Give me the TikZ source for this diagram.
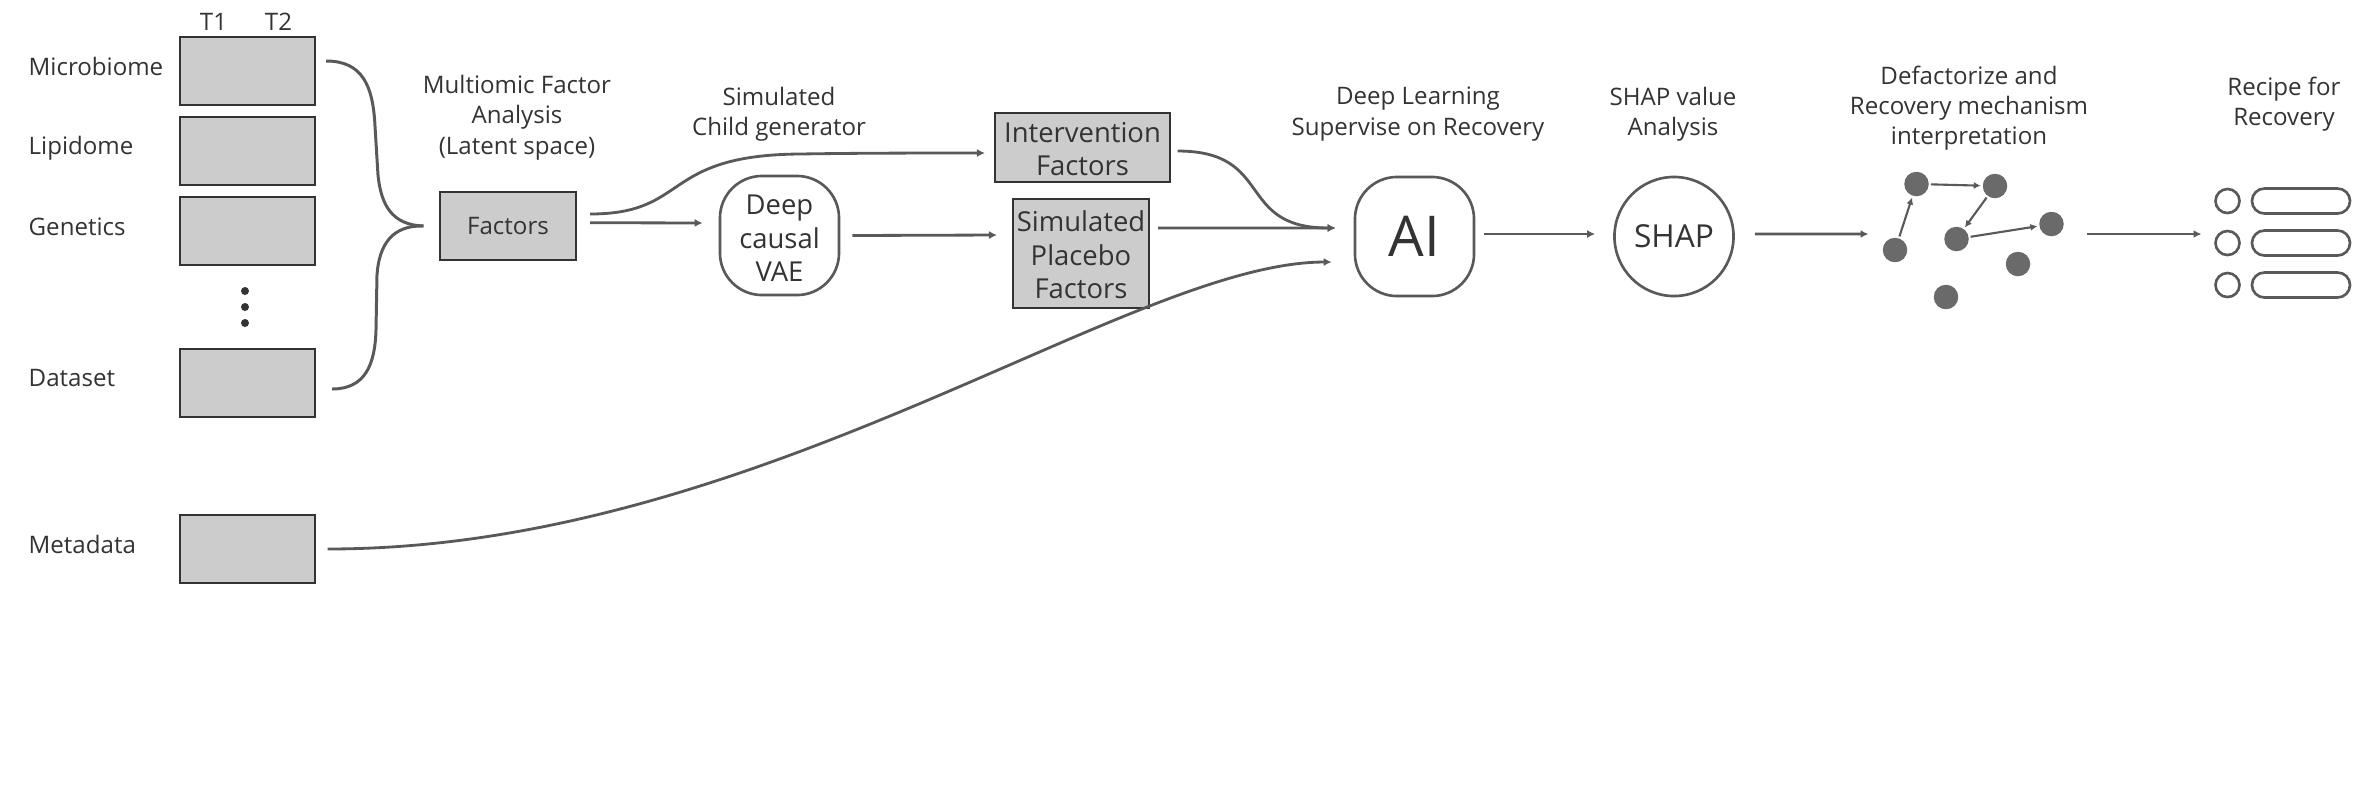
\documentclass[tikz,border=0pt]{standalone}
\usepackage{fontspec}
\setmainfont{Open Sans}
\usetikzlibrary{arrows.meta}
\definecolor{linegrey}{HTML}{595959}
\definecolor{boxgrey}{HTML}{CCCCCC}
\definecolor{textgrey}{HTML}{333333}
\tikzset{
	databox/.style={draw=textgrey, line width=0.55pt, fill=boxgrey, inner sep=0pt, minimum width=1.35cm, minimum height=0.68cm},
	factorbox/.style={draw=textgrey, line width=0.55pt, fill=boxgrey, inner sep=0pt, align=center, font=\fontsize{7.8}{9.5}\selectfont},
	softbox/.style={draw=linegrey, line width=0.75pt, inner sep=0pt, rounded corners=4.2mm, align=center},
	caption/.style={align=center, font=\fontsize{6.85}{8.6}\selectfont},
	sidelabel/.style={anchor=west, inner sep=0pt, font=\fontsize{6.85}{8.6}\selectfont},
	vertex/.style={circle, fill=linegrey!90, inner sep=0pt, minimum size=0.245cm, outer sep=0.2mm},
	slot/.style={draw=linegrey, line width=0.75pt, circle, inner sep=0pt, minimum size=0.24cm},
	pill/.style={draw=linegrey, line width=0.75pt, inner sep=0pt, rounded corners=1.25mm, minimum width=0.98cm, minimum height=0.25cm},
	flow/.style={draw=linegrey, line width=0.8pt, -{Latex[length=0.8mm,width=0.8mm]}},
	thinflow/.style={draw=linegrey, line width=0.6pt, -{Latex[length=0.7mm,width=0.7mm]}},
	bracket/.style={draw=linegrey, line width=0.85pt}
}
\begin{document}
\begin{tikzpicture}[x=0.01cm, y=-0.01cm, text=textgrey]
	\useasboundingbox (0,0) rectangle (2362,787);
	% data blocks
	\node[databox] (micro) at (247.5,71) {};
	\node[databox] (lipid) at (247.5,151) {};
	\node[databox] (genet) at (247.5,231) {};
	\node[databox] (dataset) at (247.5,383) {};
	\node[databox] (meta) at (247.5,549) {};
	\node[sidelabel] (microlab) at (28,66) {Microbiome};
	\node[sidelabel] (lipidlab) at (28,148.5) {Lipidome};
	\node[sidelabel] (genetlab) at (28,227) {Genetics};
	\node[sidelabel] (datasetlab) at (28,378) {Dataset};
	\node[sidelabel] (metalab) at (28,544.5) {Metadata};
	\node[caption] (tone) at (213.5,21.5) {T1};
	\node[caption] (ttwo) at (278.5,21.5) {T2};
	\foreach \i/\y in {1/291,2/307,3/323}
		\node[circle, fill=textgrey, inner sep=0pt, minimum size=0.08cm] (dot\i) at (245,\y) {};
	% main row
	\node[databox, font=\fontsize{6.85}{8.6}\selectfont] (factors) at (508,226) {Factors};
	\node[softbox, font=\fontsize{7.8}{9.5}\selectfont, minimum width=1.19cm, minimum height=1.19cm] (vae) at (779.5,235.5) {\rule{0pt}{7.3pt}Deep\\causal\\VAE};
	\node[factorbox, minimum width=1.75cm, minimum height=0.69cm] (interv) at (1082.5,147.5) {\rule{0pt}{6.5pt}Intervention\\Factors};
	\node[factorbox, minimum width=1.36cm, minimum height=1.09cm] (placebo) at (1081,253.5) {\rule{0pt}{6.8pt}Simulated\\Placebo\\Factors};
	\node[softbox, font=\fontsize{16}{18}\selectfont, minimum width=1.19cm, minimum height=1.19cm] (ai) at (1414.5,236.5) {AI};
	\node[draw=linegrey, line width=0.75pt, circle, inner sep=0pt, minimum size=1.19cm, font=\fontsize{9}{11}\selectfont] (shap) at (1674,236.5) {SHAP};
	% captions
	\node[caption] (mofa) at (517,117.5) {Multiomic Factor\\Analysis\\(Latent space)};
	\node[caption] (child) at (779,114) {Simulated\\Child generator};
	\node[caption] (deep) at (1418,114) {Deep Learning\\Supervise on Recovery};
	\node[caption] (shapcap) at (1673,114) {SHAP value\\Analysis};
	\node[caption] (defact) at (1969,108) {Defactorize and\\Recovery mechanism\\interpretation};
	\node[caption] (recipe) at (2284,104.5) {Recipe for\\Recovery};
	% graph
	\node[vertex] (na) at (1895,250) {};
	\node[vertex] (nb) at (1916.5,184) {};
	\node[vertex] (nc) at (1995,186) {};
	\node[vertex] (nd) at (1956.5,239) {};
	\node[vertex] (ne) at (2051.5,224) {};
	\node[vertex] (nf) at (2018,264) {};
	\node[vertex] (ng) at (1946,297) {};
	\draw (na) edge[thinflow] (nb);
	\draw (nb) edge[thinflow] (nc);
	\draw (nc) edge[thinflow] (nd);
	\draw (nd) edge[thinflow] (ne);
	% recipe list
	\foreach \i/\y in {1/201,2/243,3/285} {
		\node[slot] (slot\i) at (2227.5,\y) {};
		\node[pill] (pill\i) at (2301,\y) {};
	}
	% free ends of the graph arrows
	\coordinate (graphin) at (1868.5,234);
	\coordinate (graphout) at (2087,234);
	\coordinate (recipein) at (2201.5,234);
	% connectors
	\draw[bracket] ([xshift=1mm,yshift=1mm]micro.east) .. controls (362,61) and (373,85) .. (375,126) -- (378,175) .. controls (381,205) and (392,225) .. ([xshift=-1.6mm]factors.west);
	\draw[bracket] ([xshift=1.6mm,yshift=-0.6mm]dataset.east) .. controls (365,389) and (375,365) .. (376,330) -- (377,275) .. controls (379,245) and (392,225) .. ([xshift=-1.6mm]factors.west);
	\draw[flow] ([xshift=1.35mm,yshift=1.2mm]factors.east) .. controls (690,214) and (660,155) .. (800,154) .. controls (860,153) and (930,153) .. ([xshift=-0.9mm,yshift=-0.55mm]interv.west);
	\draw[flow] ([xshift=1.35mm,yshift=0.33mm]factors.east) -- ([xshift=-1.6mm,yshift=1.25mm]vae.west);
	\draw[flow] ([xshift=1.2mm]vae.east) -- ([xshift=-1.5mm,yshift=0.05mm]placebo.west |- vae.west);
	\draw[flow] ([xshift=0.8mm,yshift=2.55mm]placebo.east) -- ([xshift=-1.8mm,yshift=0.85mm]ai.west);
	\draw[flow] ([xshift=0.65mm,yshift=-0.35mm]interv.east) .. controls (1275,151) and (1235,228) .. ([xshift=-1.8mm,yshift=0.85mm]ai.west);
	\draw[flow] ([xshift=1.15mm]meta.east) .. controls (760,549) and (1130,262) .. ([xshift=-2.2mm,yshift=-2.55mm]ai.west);
	\draw[flow] ([xshift=0.9mm,yshift=0.25mm]ai.east) -- ([xshift=-1.8mm,yshift=0.25mm]shap.west);
	\draw[flow] ([xshift=2mm,yshift=0.25mm]shap.east) -- (graphin);
	\draw[flow] (graphout) -- (recipein);
\end{tikzpicture}
\end{document}
